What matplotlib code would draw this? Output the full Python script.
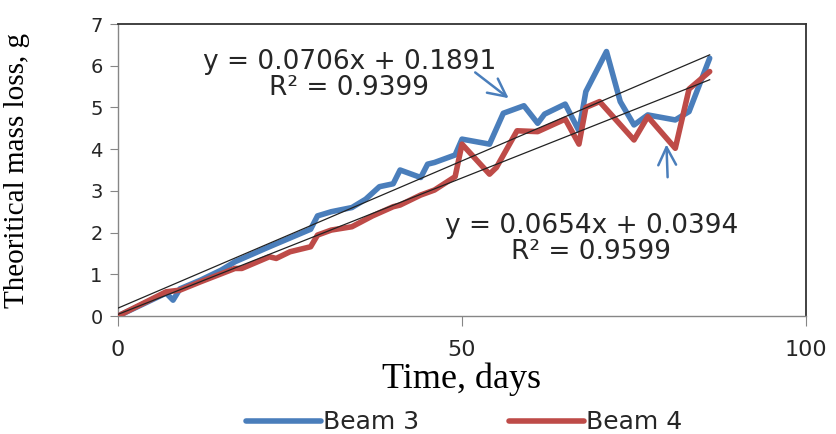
import matplotlib
matplotlib.use('Agg')
import matplotlib.pyplot as plt
import numpy as np

# Beam 3 (blue) readings
beam3_days = [0, 7, 8, 9, 12, 15, 17, 22, 24, 28, 29, 31, 34, 36, 38, 40, 41, 44,
              45, 46, 49, 50, 54, 56, 59, 61, 62, 65, 67, 68, 71, 73, 75, 77, 81, 83, 86]
beam3_loss = [0, 0.55, 0.38, 0.65, 0.86, 1.10, 1.30, 1.66, 1.80, 2.08, 2.40, 2.50,
              2.60, 2.80, 3.10, 3.17, 3.50, 3.32, 3.64, 3.68, 3.86, 4.24, 4.12, 4.86,
              5.04, 4.62, 4.84, 5.08, 4.44, 5.38, 6.34, 5.14, 4.58, 4.82, 4.70, 4.90, 6.18]

# Beam 4 (red) readings
beam4_days = [0, 7, 9, 12, 17, 18, 22, 23, 25, 28, 29, 31, 34, 37, 40, 41, 44, 46,
              49, 50, 54, 55, 58, 61, 65, 67, 68, 70, 75, 77, 81, 83, 86]
beam4_loss = [0, 0.58, 0.62, 0.82, 1.14, 1.14, 1.42, 1.38, 1.54, 1.66, 1.94, 2.06,
              2.14, 2.40, 2.62, 2.66, 2.90, 3.02, 3.34, 4.12, 3.40, 3.56, 4.44, 4.42,
              4.72, 4.12, 5.00, 5.14, 4.22, 4.78, 4.02, 5.44, 5.86]

# linear trend lines (slope, intercept) as printed on the chart
fit3 = [0.0706, 0.1891]
fit4 = [0.0654, 0.0394]
fit3_label = 'y = 0.0706x + 0.1891\nR² = 0.9399'
fit4_label = 'y = 0.0654x + 0.0394\nR² = 0.9599'

x_ticks = [0, 50, 100]
y_ticks = [0, 1, 2, 3, 4, 5, 6, 7]

BLUE = '#4a7ebb'
RED = '#be4b48'

fig = plt.figure(figsize=(8.37, 4.34), dpi=100)
ax = fig.add_axes([118 / 837, 1 - 316 / 434, (806 - 118) / 837, (316 - 24) / 434])

ax.plot(beam3_days, beam3_loss, color=BLUE, lw=4, label='Beam 3',
        solid_joinstyle='round', solid_capstyle='round', zorder=3)
ax.plot(beam4_days, beam4_loss, color=RED, lw=4, label='Beam 4',
        solid_joinstyle='round', solid_capstyle='round', zorder=3)

xs = np.array([0, max(beam3_days)])
ax.plot(xs, fit3[0] * xs + fit3[1], color='#222222', lw=0.9, zorder=4)
xs = np.array([0, max(beam4_days)])
ax.plot(xs, fit4[0] * xs + fit4[1], color='#222222', lw=0.9, zorder=4)

ax.text(33.6, 5.78, fit3_label, ha='center', va='center', fontsize=19,
        linespacing=1.0, color='#262626')
ax.text(68.8, 1.85, fit4_label, ha='center', va='center', fontsize=19,
        linespacing=1.0, color='#262626')

# hand drawn arrows
ax.annotate('', xy=(57.1, 5.18), xytext=(51.6, 5.88),
            arrowprops=dict(arrowstyle='->', color=BLUE, lw=1.8, mutation_scale=32))
ax.annotate('', xy=(79.7, 4.18), xytext=(79.9, 3.26),
            arrowprops=dict(arrowstyle='->', color=BLUE, lw=1.8, mutation_scale=32))

ax.set_xlim(0, 100)
ax.set_ylim(0, 7)
ax.set_xticks(x_ticks)
ax.set_yticks(y_ticks)
ax.tick_params(axis='x', direction='out', length=7, color='#868686',
               labelsize=16, pad=10, labelcolor='#262626')
ax.tick_params(axis='y', direction='out', length=6, color='#868686',
               labelsize=14, pad=5, labelcolor='#262626')

for side in ('left', 'bottom'):
    ax.spines[side].set_color('#868686')
    ax.spines[side].set_linewidth(1.0)
for side in ('top', 'right'):
    ax.spines[side].set_color('#333333')
    ax.spines[side].set_linewidth(1.3)

ax.set_xlabel('Time, days', family='Liberation Serif', fontsize=26, labelpad=2)
ax.set_ylabel('Theoritical mass loss, g', family='Liberation Serif', fontsize=21)
ax.yaxis.set_label_coords(-0.128, 0.5)

fig.legend(loc='center', bbox_to_anchor=(0.555, 0.027), ncol=2, frameon=False,
           fontsize=18, handlelength=3.0, handletextpad=0.08, columnspacing=3.6,
           labelcolor='#262626')

fig.savefig('out.png', dpi=100, facecolor='white')
